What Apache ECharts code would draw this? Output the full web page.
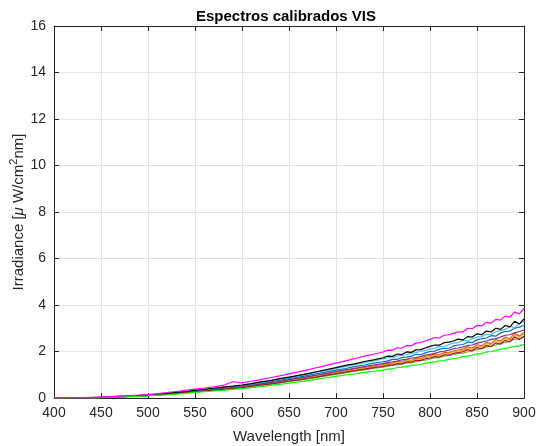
<!DOCTYPE html>
<html>
<head>
<meta charset="utf-8">
<script src="https://cdn.jsdelivr.net/npm/echarts@6/dist/echarts.min.js"></script>
<style>
  html, body { margin: 0; padding: 0; background: #fff; }
  #chart { width: 539px; height: 446px; }
</style>
</head>
<body>
<div id="chart"></div>
<script>
// Wavelength samples (nm): 10 nm steps up to 740, then 5 nm steps to 900
const wavelengths = [400,410,420,430,440,450,460,470,480,490,500,510,520,530,540,550,560,570,580,590,
  600,610,620,630,640,650,660,670,680,690,700,710,720,730,740,
  750,755,760,765,770,775,780,785,790,795,800,805,810,815,820,825,830,835,840,845,
  850,855,860,865,870,875,880,885,890,895,900];

// Calibrated irradiance spectra (µW/cm²nm)
const specMagenta = [0.00,0.01,0.01,0.02,0.03,0.04,0.06,0.08,0.10,0.12,0.15,0.19,0.23,0.28,0.33,0.38,0.43,0.48,0.54,0.70,
  0.65,0.72,0.79,0.87,0.95,1.04,1.12,1.21,1.31,1.40,1.50,1.60,1.69,1.80,1.88,
  1.98,2.06,2.05,2.16,2.14,2.26,2.24,2.36,2.38,2.45,2.52,2.60,2.58,2.70,2.72,2.78,2.85,2.84,3.00,2.98,
  3.12,3.10,3.25,3.22,3.38,3.35,3.52,3.48,3.70,3.62,3.85];
const specBlack = [0.00,0.01,0.01,0.02,0.02,0.03,0.05,0.07,0.08,0.10,0.13,0.16,0.20,0.24,0.28,0.33,0.37,0.42,0.47,0.51,
  0.56,0.62,0.69,0.75,0.83,0.90,0.97,1.05,1.14,1.22,1.31,1.40,1.47,1.57,1.64,
  1.73,1.80,1.79,1.89,1.87,1.98,1.96,2.07,2.08,2.15,2.22,2.28,2.27,2.38,2.40,2.45,2.53,2.50,2.64,2.62,
  2.76,2.72,2.88,2.84,3.00,2.95,3.12,3.06,3.30,3.18,3.40];
const specLightBlue = [0.00,0.01,0.01,0.02,0.02,0.03,0.05,0.07,0.08,0.10,0.13,0.16,0.19,0.24,0.28,0.32,0.36,0.41,0.46,0.50,
  0.55,0.61,0.67,0.74,0.81,0.88,0.95,1.03,1.11,1.19,1.27,1.35,1.43,1.51,1.59,
  1.68,1.72,1.74,1.80,1.83,1.86,1.93,1.95,2.01,2.05,2.10,2.14,2.22,2.20,2.30,2.36,2.38,2.47,2.46,2.55,
  2.62,2.64,2.74,2.72,2.86,2.90,2.95,3.08,3.02,3.20,3.30];
const specBlue = [0.00,0.01,0.01,0.01,0.02,0.03,0.05,0.06,0.08,0.10,0.12,0.15,0.18,0.22,0.26,0.30,0.34,0.39,0.43,0.47,
  0.52,0.58,0.63,0.70,0.76,0.83,0.90,0.97,1.05,1.12,1.20,1.27,1.35,1.42,1.50,
  1.56,1.60,1.66,1.66,1.74,1.76,1.80,1.88,1.86,1.94,2.00,2.02,2.10,2.13,2.14,2.24,2.28,2.30,2.40,2.38,
  2.50,2.55,2.58,2.68,2.66,2.80,2.86,2.88,3.00,3.05,3.12];
const specPurple = [0.00,0.01,0.01,0.01,0.02,0.03,0.04,0.06,0.07,0.09,0.11,0.14,0.17,0.21,0.25,0.29,0.33,0.37,0.41,0.45,
  0.49,0.55,0.60,0.66,0.72,0.79,0.85,0.92,0.99,1.06,1.14,1.21,1.28,1.35,1.42,
  1.48,1.53,1.55,1.59,1.64,1.66,1.72,1.74,1.78,1.85,1.88,1.92,1.98,2.01,2.06,2.12,2.15,2.20,2.26,2.28,
  2.36,2.40,2.45,2.52,2.55,2.62,2.70,2.72,2.80,2.86,2.92];
const specOrange = [0.00,0.01,0.01,0.01,0.02,0.03,0.04,0.06,0.07,0.09,0.11,0.14,0.17,0.21,0.24,0.28,0.32,0.36,0.40,0.44,
  0.48,0.53,0.58,0.64,0.70,0.77,0.83,0.90,0.97,1.04,1.11,1.18,1.25,1.31,1.38,
  1.44,1.50,1.48,1.57,1.55,1.64,1.62,1.71,1.70,1.79,1.82,1.89,1.86,1.96,1.94,2.03,2.06,2.10,2.20,2.15,
  2.29,2.24,2.39,2.34,2.51,2.44,2.62,2.54,2.78,2.66,2.82];
const specYellow = [0.00,0.01,0.01,0.01,0.02,0.03,0.04,0.05,0.07,0.09,0.11,0.13,0.16,0.20,0.23,0.27,0.31,0.35,0.39,0.43,
  0.47,0.52,0.57,0.63,0.68,0.75,0.81,0.87,0.94,1.01,1.08,1.15,1.21,1.28,1.34,
  1.41,1.46,1.45,1.53,1.52,1.60,1.59,1.68,1.66,1.75,1.78,1.84,1.82,1.92,1.90,1.99,2.02,2.05,2.15,2.10,
  2.24,2.19,2.34,2.29,2.46,2.39,2.57,2.49,2.72,2.60,2.76];
const specRed = [0.00,0.01,0.01,0.01,0.02,0.03,0.04,0.05,0.07,0.08,0.10,0.13,0.16,0.19,0.23,0.26,0.30,0.34,0.38,0.41,
  0.45,0.50,0.55,0.61,0.66,0.73,0.78,0.85,0.91,0.98,1.05,1.11,1.18,1.24,1.31,
  1.36,1.42,1.40,1.48,1.47,1.55,1.54,1.62,1.61,1.69,1.72,1.78,1.76,1.86,1.84,1.92,1.95,1.99,2.08,2.03,
  2.17,2.12,2.26,2.21,2.37,2.31,2.48,2.41,2.63,2.51,2.66];
const specOlive = [0.00,0.01,0.01,0.01,0.02,0.03,0.04,0.05,0.07,0.08,0.10,0.13,0.16,0.19,0.22,0.26,0.29,0.33,0.37,0.40,
  0.44,0.49,0.54,0.59,0.65,0.71,0.76,0.82,0.89,0.95,1.02,1.08,1.15,1.21,1.27,
  1.33,1.36,1.41,1.42,1.46,1.52,1.51,1.56,1.61,1.63,1.68,1.72,1.74,1.80,1.83,1.86,1.92,1.93,1.98,2.05,
  2.08,2.12,2.20,2.22,2.28,2.36,2.38,2.45,2.52,2.55,2.62];
const specGreen = [0.00,0.01,0.01,0.01,0.02,0.02,0.04,0.05,0.06,0.07,0.09,0.12,0.14,0.17,0.20,0.24,0.27,0.30,0.33,0.37,
  0.40,0.45,0.49,0.54,0.59,0.64,0.69,0.75,0.81,0.87,0.93,0.99,1.04,1.10,1.15,
  1.20,1.24,1.26,1.30,1.33,1.35,1.40,1.42,1.44,1.50,1.52,1.55,1.60,1.61,1.66,1.70,1.72,1.78,1.80,1.84,
  1.90,1.91,1.98,2.00,2.04,2.10,2.12,2.18,2.22,2.24,2.30];

const xTicks = [400,450,500,550,600,650,700,750,800,850,900];
const yTicks = [0,2,4,6,8,10,12,14,16];

// Draw order and colours of the spectra
const spectra = [
  { data: specBlue, color: '#0072BD' },
  { data: specOrange, color: '#D95319' },
  { data: specYellow, color: '#EDB120' },
  { data: specPurple, color: '#7E2F8E' },
  { data: specOlive, color: '#77AC30' },
  { data: specLightBlue, color: '#4DBEEE' },
  { data: specRed, color: '#A2142F' },
  { data: specBlack, color: '#000000' },
  { data: specGreen, color: '#00FF00' },
  { data: specMagenta, color: '#FF00FF' }
];

const FONT = '"Liberation Sans", Arial, Helvetica, sans-serif';
const AX = '#262626';

const chart = echarts.init(document.getElementById('chart'), null, { renderer: 'canvas' });

const baseX = {
  type: 'value', min: 400, max: 900, interval: 50,
  axisLine: { show: true, onZero: false, lineStyle: { color: AX, width: 1 } },
  axisTick: { show: true, inside: true, length: 5, lineStyle: { color: AX } },
  splitLine: { show: false }
};
const baseY = {
  type: 'value', min: 0, max: 16, interval: 2,
  axisLine: { show: true, onZero: false, lineStyle: { color: AX, width: 1 } },
  axisTick: { show: true, inside: true, length: 5, lineStyle: { color: AX } },
  splitLine: { show: false }
};

chart.setOption({
  animation: false,
  backgroundColor: '#ffffff',
  title: {
    text: 'Espectros calibrados VIS',
    left: 281, top: 4, textAlign: 'center',
    textStyle: { fontFamily: FONT, fontSize: 15, fontWeight: 'bold', color: '#000' }
  },
  grid: { left: 54, right: 15, top: 26, bottom: 48, containLabel: false, outerBoundsMode: 'none' },
  xAxis: [
    Object.assign({}, baseX, {
      position: 'bottom',
      name: 'Wavelength [nm]', nameLocation: 'middle', nameGap: 31,
      nameMoveOverlap: false,
      nameTextStyle: { fontFamily: FONT, fontSize: 15, color: AX },
      axisLabel: { fontFamily: FONT, fontSize: 14, color: AX, margin: 8,
        formatter: v => xTicks.includes(v) ? String(v) : '' },
      splitLine: { show: true, lineStyle: { color: '#e3e3e3', width: 1 } }
    }),
    Object.assign({}, baseX, { position: 'top', axisLabel: { show: false } })
  ],
  yAxis: [
    Object.assign({}, baseY, {
      position: 'left',
      name: '{n|Irradiance [}{m|μ}{n| W/cm}{s|2}{n|nm]}',
      nameLocation: 'middle', nameGap: 28, nameRotate: 90,
      nameMoveOverlap: false,
      nameTextStyle: {
        fontFamily: FONT, fontSize: 15, color: AX,
        rich: {
          n: { fontFamily: FONT, fontSize: 15, color: AX, verticalAlign: 'bottom' },
          m: { fontFamily: FONT, fontSize: 15, fontStyle: 'italic', color: AX, verticalAlign: 'bottom' },
          s: { fontFamily: FONT, fontSize: 11, color: AX, verticalAlign: 'bottom', padding: [0, 0, 7, 0] }
        }
      },
      axisLabel: { fontFamily: FONT, fontSize: 14, color: AX, margin: 8,
        formatter: v => yTicks.includes(v) ? String(v) : '' },
      splitLine: { show: true, lineStyle: { color: '#e3e3e3', width: 1 } }
    }),
    Object.assign({}, baseY, { position: 'right', axisLabel: { show: false } })
  ],
  series: spectra.map(s => ({
    type: 'line',
    xAxisIndex: 0, yAxisIndex: 0,
    data: wavelengths.map((w, i) => [w, s.data[i]]),
    showSymbol: false, symbol: 'none',
    lineStyle: { color: s.color, width: 1.2 },
    itemStyle: { color: s.color },
    emphasis: { disabled: true },
    silent: true
  }))
});
</script>
</body>
</html>
